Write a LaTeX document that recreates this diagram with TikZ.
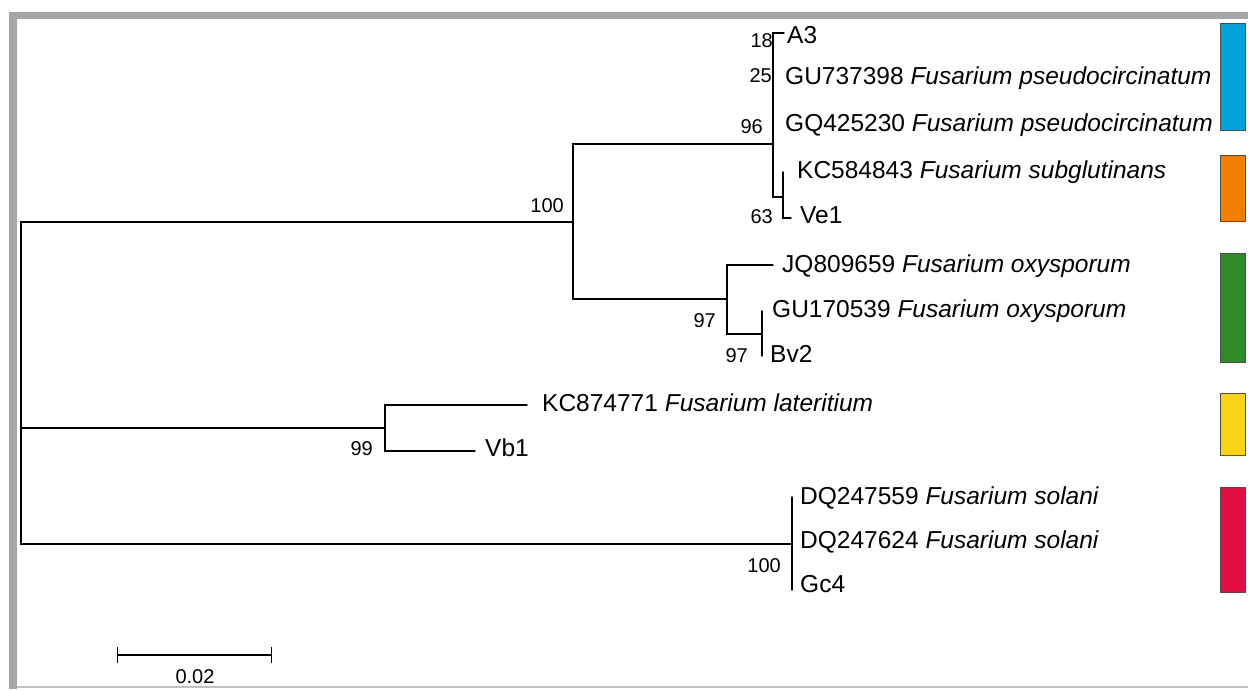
\documentclass[tikz,border=0pt]{standalone}
\usepackage{fontspec}
\setmainfont{Liberation Sans}
\usetikzlibrary{arrows.meta}
\definecolor{cladeblue}{RGB}{0,162,216}
\definecolor{cladeorange}{RGB}{242,128,0}
\definecolor{cladegreen}{RGB}{46,139,40}
\definecolor{cladeyellow}{RGB}{247,212,23}
\definecolor{cladered}{RGB}{227,15,66}
\definecolor{framegray}{RGB}{166,166,166}

\begin{document}
\begin{tikzpicture}[x=1pt, y=-1pt, line cap=round,
    branch/.style={line width=1.4pt},
    leaf/.style={anchor=west, inner sep=0pt, text height=.72em, text depth=0pt,
      yshift=-4pt, font=\fontsize{24.5}{28}\selectfont},
    boot/.style={anchor=east, inner sep=0pt, text height=.72em, text depth=0pt,
      yshift=-4pt, font=\fontsize{20}{24}\selectfont},
    cladebar/.style={draw=black!70, line width=1pt}]
  \useasboundingbox (0,0) rectangle (1248,689);
  \fill[white] (0,0) rectangle (1248,689);
  \fill[framegray] (9,12) rectangle (1248,19);
  \fill[framegray] (9,12) rectangle (17,689);
  \draw[framegray!70, line width=1.5pt, line cap=butt] (17,687) -- (1248,687);

  \coordinate (root) at (21,428);
  \coordinate (nA) at (573,222);
  \coordinate (nB) at (773,144);
  \coordinate (nF) at (783,197);
  \coordinate (nC) at (727,299);
  \coordinate (nG) at (762,334);
  \coordinate (nD) at (385,428);
  \coordinate (nE) at (792,544);
  \coordinate (tA3) at (784,33);
  \coordinate (tKC1) at (783,172);
  \coordinate (tVe1) at (791,218);
  \coordinate (tJQ) at (773,265);
  \coordinate (tGU2) at (762,311);
  \coordinate (tBv2) at (762,356);
  \coordinate (tKC2) at (527,405);
  \coordinate (tVb1) at (475,451);
  \coordinate (tDQ1) at (792,497);
  \coordinate (tGc4) at (792,590);

  \draw[branch] (root) |- (nA) (root) |- (nD) (root) |- (nE);
  \draw[branch] (nA) |- (nB) (nA) |- (nC);
  \draw[branch] (nB) |- (tA3) (nB) |- (nF);
  \draw[branch] (nF) |- (tKC1) (nF) |- (tVe1);
  \draw[branch] (nC) |- (tJQ) (nC) |- (nG);
  \draw[branch] (nG) |- (tGU2) (nG) |- (tBv2);
  \draw[branch] (nD) |- (tKC2) (nD) |- (tVb1);
  \draw[branch] (nE) |- (tDQ1) (nE) |- (tGc4);

  \node[leaf] (lA3) at (787,36) {A3};
  \node[leaf] (lGU737398) at (785,77) {GU737398 \textit{Fusarium pseudocircinatum}};
  \node[leaf] (lGQ425230) at (785,124) {GQ425230 \textit{Fusarium pseudocircinatum}};
  \node[leaf] (lKC584843) at (797,171) {KC584843 \textit{Fusarium subglutinans}};
  \node[leaf] (lVe1) at (800,216) {Ve1};
  \node[leaf] (lJQ809659) at (782,265) {JQ809659 \textit{Fusarium oxysporum}};
  \node[leaf] (lGU170539) at (772,310) {GU170539 \textit{Fusarium oxysporum}};
  \node[leaf] (lBv2) at (770,355) {Bv2};
  \node[leaf] (lKC874771) at (542,404) {KC874771 \textit{Fusarium lateritium}};
  \node[leaf] (lVb1) at (485,449) {Vb1};
  \node[leaf] (lDQ247559) at (800,497) {DQ247559 \textit{Fusarium solani}};
  \node[leaf] (lDQ247624) at (800,541) {DQ247624 \textit{Fusarium solani}};
  \node[leaf] (lGc4) at (800,585) {Gc4};

  \node[boot] (b18) at (773,40) {18};
  \node[boot] (b25) at (772,75) {25};
  \node[boot] (b96) at (763,126) {96};
  \node[boot] (b63) at (773,216) {63};
  \node[boot] (b100a) at (564,205) {100};
  \node[boot] (b97a) at (716,320) {97};
  \node[boot] (b97b) at (748,355) {97};
  \node[boot] (b99) at (373,448) {99};
  \node[boot] (b100b) at (781,565) {100};

  \draw[cladebar, fill=cladeblue] (1220,23) rectangle (1245,130);
  \draw[cladebar, fill=cladeorange] (1220,155) rectangle (1245,221);
  \draw[cladebar, fill=cladegreen] (1220,253) rectangle (1245,362);
  \draw[cladebar, fill=cladeyellow] (1220,393) rectangle (1245,455);
  \draw[cladebar, fill=cladered] (1220,487) rectangle (1245,592);

  \coordinate (s0) at (117,655);
  \coordinate (s1) at (272,655);
  \draw[branch, line cap=butt, {Bar[width=16pt]}-{Bar[width=16pt]}] (s0) -- (s1);
  \node[boot, anchor=center] (scalelbl) at (195,676) {0.02};
\end{tikzpicture}
\end{document}
